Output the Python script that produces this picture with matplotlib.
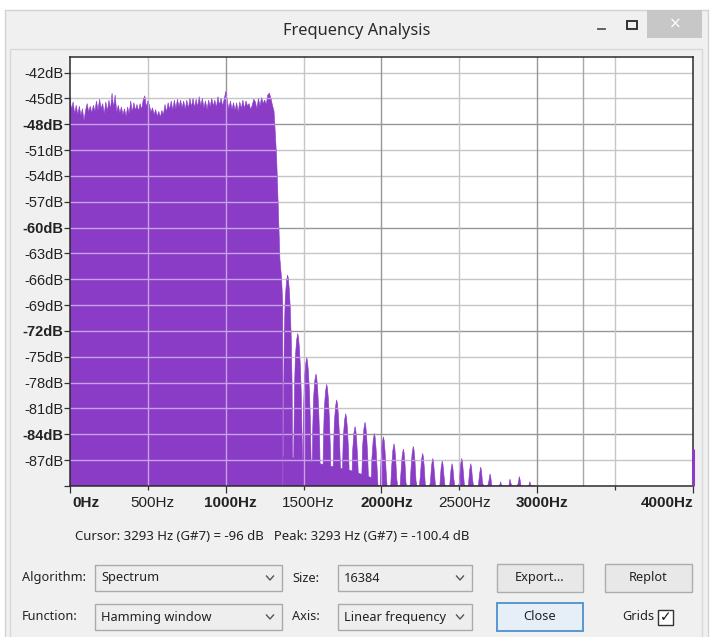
import numpy as np
import matplotlib
matplotlib.use("Agg")
import matplotlib.pyplot as plt
from matplotlib.patches import Rectangle, PathPatch
from matplotlib.path import Path
from matplotlib.transforms import blended_transform_factory, offset_copy

# ------------------------------------------------------------------ data
# flat pass-band of the spectrum, one value every 10 Hz from 0 Hz to 1300 Hz
flat_hz = list(range(0, 1301, 10))
flat_db = [
    -45.0, -46.3, -45.4, -46.8, -45.8, -46.9, -45.9, -47.0, -46.2, -47.6, -46.4,
    -45.6, -46.6, -45.9, -46.7, -45.8, -46.5, -45.3, -46.4, -45.1, -46.2,
    -45.6, -46.8, -45.4, -46.5, -45.2, -46.3, -44.4, -46.1, -44.6, -46.6,
    -45.8, -46.7, -46.0, -46.9, -46.2, -47.1, -46.0, -46.8, -45.3, -46.6,
    -45.5, -46.4, -45.7, -46.5, -45.6, -46.3, -45.2, -44.7, -46.0, -45.3,
    -45.8, -46.6, -46.1, -46.9, -46.3, -47.1, -46.5, -47.2, -46.4, -46.9,
    -45.7, -46.6, -45.5, -46.3, -45.3, -46.4, -45.2, -46.2, -45.1, -46.0,
    -45.2, -46.1, -45.3, -46.3, -45.2, -46.2, -45.0, -46.0, -45.0, -46.1,
    -45.1, -46.0, -44.8, -45.9, -45.0, -46.1, -45.3, -46.3, -45.2, -46.0,
    -45.0, -45.9, -45.2, -46.1, -44.8, -45.8, -45.0, -45.9, -45.1, -44.2,
    -45.3, -46.2, -45.3, -46.3, -45.5, -46.4, -45.5, -46.6, -45.4, -46.2,
    -45.2, -46.2, -45.3, -45.9, -45.6, -46.3, -45.8, -45.1, -45.4, -46.2,
    -45.0, -45.9, -44.9, -45.6, -45.2, -45.7, -44.6, -44.4, -45.0, -45.8,
]
# steep roll-off after the pass-band
edge_hz = [1310, 1316, 1327, 1338, 1348, 1359, 1366]
edge_db = [-46.5, -48.3, -52.0, -58.0, -63.7, -66.0, -69.0]
# side-lobe peaks of the stop-band
lobe_hz = [1397, 1462, 1520, 1579, 1648, 1712, 1770, 1830, 1894, 1954,
           2012, 2080, 2140, 2204, 2264, 2329, 2390, 2453, 2515, 2573,
           2637, 2697, 2765, 2825, 2885, 2953]
lobe_db = [-65.5, -72.3, -75.1, -77.0, -78.2, -80.0, -81.6, -83.1, -82.6, -83.9,
           -84.3, -85.1, -85.7, -85.4, -86.2, -86.8, -87.1, -87.4, -86.8, -87.4,
           -87.8, -88.6, -89.5, -89.2, -88.9, -89.5]
# level between the first side lobes (filled up to this level)
lobe_floor_hz = [1372, 1600, 1800, 1965]
lobe_floor_db = [-86.5, -87.4, -88.2, -89.2]
# single bin at the Nyquist edge
nyq_hz = [4000]
nyq_db = [-85.7]

y_tick_db = [-42, -45, -48, -51, -54, -57, -60, -63, -66, -69, -72, -75, -78, -81, -84, -87]
bold_db = [-48, -60, -72, -84]
x_tick_hz = [0, 500, 1000, 1500, 2000, 2500, 3000, 3500, 4000]
x_tick_labels = ["0Hz", "500Hz", "1000Hz", "1500Hz", "2000Hz", "2500Hz", "3000Hz", "", "4000Hz"]
x_bold_hz = [0, 1000, 2000, 3000, 4000]
cursor_hz = 3293
y_range = (-90.0, -40.2)
x_range = (0, 4000)

status_text = "Cursor: 3293 Hz (G#7) = -96 dB   Peak: 3293 Hz (G#7) = -100.4 dB"

# ------------------------------------------------------------------ style
W, H = 713, 637
PURPLE = "#8a3cc6"
LAVENDER = "#c7a2e6"
GRID_MINOR = "#c6c6c6"
GRID_MAJOR = "#979797"
UI_BG = "#f0f0f0"
UI_FONT = ["Noto Sans", "DejaVu Sans"]
RULER_FONT = ["Liberation Sans", "DejaVu Sans"]
UI_FS = 9.2
# side-lobe outline: offsets (fraction of lobe spacing) and level below the peak (dB)
LOBE_DX = [-0.45, -0.41, -0.34, -0.25, -0.12, 0.0, 0.08, 0.18, 0.29, 0.39, 0.48, 0.54]
LOBE_DROP = [-24, -13, -6.5, -2.8, -0.8, 0, -0.4, -1.7, -4.0, -7.5, -13, -24]

fig = plt.figure(figsize=(W / 100, H / 100), dpi=100)
fig.patch.set_facecolor("white")

# ------------------------------------------------------------------ window chrome (pixel coords)
ui = fig.add_axes([0, 0, 1, 1], zorder=0)
ui.set_xlim(0, W)
ui.set_ylim(H, 0)
ui.axis("off")

ui.add_patch(Rectangle((5, 10), 703, 640, facecolor=UI_BG, edgecolor="#d2d2d2", lw=1))
ui.add_patch(Rectangle((10, 49), 692, 600, facecolor=UI_BG, edgecolor="#d8d8d8", lw=1))
ui.text(357, 31, "Frequency Analysis", ha="center", va="center", fontsize=11.8,
        color="#2a2a2a", family=UI_FONT)
# window buttons
ui.plot([598, 605], [29, 29], color="#555555", lw=1.3)
ui.add_patch(Rectangle((627, 21), 10, 8, facecolor="none", edgecolor="#333333", lw=1.4))
ui.add_patch(Rectangle((647, 10), 55, 28, facecolor="#c7c7c7", edgecolor="none"))
ui.text(675, 24, "×", ha="center", va="center", fontsize=11, color="white",
        family=["DejaVu Sans"])

# status line
ui.text(75, 537, status_text, ha="left", va="center", fontsize=9.5, color="#222222",
        family=UI_FONT)


def combo(x0, x1, yc, label):
    ui.add_patch(Rectangle((x0, yc - 13), x1 - x0, 26, facecolor="#eeeeee",
                           edgecolor="#ababab", lw=1))
    ui.text(x0 + 6, yc, label, ha="left", va="center", fontsize=UI_FS,
            color="#222222", family=UI_FONT)
    cx = x1 - 12
    ui.plot([cx - 3.5, cx, cx + 3.5], [yc - 2, yc + 2, yc - 2], color="#555555", lw=1)


def button(x0, x1, yc, label, edge="#adadad", face="#e8e8e8", lw=1):
    ui.add_patch(Rectangle((x0, yc - 14), x1 - x0, 28, facecolor=face,
                           edgecolor=edge, lw=lw))
    ui.text((x0 + x1) / 2, yc, label, ha="center", va="center", fontsize=UI_FS,
            color="#222222", family=UI_FONT)


row1, row2 = 578, 617
for x, y, s in [(22, row1, "Algorithm:"), (22, row2, "Function:"),
                (292, row1, "Size:"), (292, row2, "Axis:")]:
    ui.text(x, y, s, ha="left", va="center", fontsize=UI_FS, color="#222222", family=UI_FONT)
ui.text(654, row2, "Grids", ha="right", va="center", fontsize=UI_FS, color="#222222",
        family=UI_FONT)
combo(95, 282, row1, "Spectrum")
combo(95, 282, row2, "Hamming window")
combo(338, 472, row1, "16384")
combo(338, 472, row2, "Linear frequency")
button(497, 583, row1, "Export...")
button(605, 692, row1, "Replot")
button(497, 583, row2, "Close", edge="#4d8fcf", face="#e6eff8", lw=1.3)
ui.add_patch(Rectangle((658, row2 - 7.5), 15, 15, facecolor="white", edgecolor="#333333", lw=1))
ui.text(665.5, row2, "✓", ha="center", va="center", fontsize=10, color="#111111",
        family=["DejaVu Sans"], fontweight="bold")

# ------------------------------------------------------------------ plot
L, R, T, B = 70, 693, 57, 486
ax = fig.add_axes([L / W, (H - B) / H, (R - L) / W, (B - T) / H], zorder=2)
ax.set_facecolor("white")
ax.set_xlim(*x_range)
ax.set_ylim(*y_range)

floor = y_range[0]

# gray grid
for db in y_tick_db:
    ax.axhline(db, color=GRID_MAJOR if db in bold_db else GRID_MINOR, lw=1, zorder=1)
for hz in x_tick_hz[1:-1]:
    ax.axvline(hz, color=GRID_MAJOR if hz in x_bold_hz else GRID_MINOR, lw=1, zorder=1)
ax.axvline(cursor_hz, color="#a8a8a8", lw=1, zorder=1)

# spectrum polygons
polys = []
main_x = [flat_hz[0]] + flat_hz + edge_hz + [edge_hz[-1]]
main_y = [floor] + flat_db + edge_db + [floor]
polys.append(np.column_stack([main_x, main_y]))

spacing = float(np.median(np.diff(lobe_hz)))
for f, d in zip(lobe_hz, lobe_db):
    xs = [f + dx * spacing for dx in LOBE_DX]
    ys = [max(d + dr, floor) for dr in LOBE_DROP]
    px = [xs[0]] + xs + [xs[-1]]
    py = [floor] + ys + [floor]
    polys.append(np.column_stack([px, py]))

polys.append(np.column_stack([[lobe_floor_hz[0]] + lobe_floor_hz + [lobe_floor_hz[-1]],
                              [floor] + lobe_floor_db + [floor]]))

for p in polys:
    ax.fill(p[:, 0], p[:, 1], facecolor=PURPLE, edgecolor=PURPLE, lw=0.4, zorder=2)

# Nyquist bin drawn as a thin bar at the right edge
ax.vlines(nyq_hz, floor, nyq_db, colors=PURPLE, lw=2.2, zorder=6, clip_on=False)

# combined outline used to clip the light grid over the purple area
paths = [Path(np.vstack([p, p[:1]]), closed=True) for p in polys]
compound = Path.make_compound_path(*paths)
clipper = PathPatch(compound, facecolor="none", edgecolor="none",
                    transform=ax.transData)

for db in y_tick_db:
    ln = ax.axhline(db, color=LAVENDER, lw=1, zorder=3)
    ln.set_clip_path(clipper)
for hz in x_tick_hz[1:-1]:
    ln = ax.axvline(hz, color=LAVENDER, lw=1, zorder=3)
    ln.set_clip_path(clipper)

# frame
for s in ax.spines.values():
    s.set_color("#2b2b2b")
    s.set_linewidth(1.1)
    s.set_zorder(5)

# y ticks
ax.set_yticks(y_tick_db + [floor])
ax.set_yticklabels([f"{d}dB" for d in y_tick_db] + [""])
ax.tick_params(axis="y", direction="out", length=4, width=0.9, color="#333333",
               pad=1, labelsize=10.5, labelcolor="#222222")
for lab, d in zip(ax.get_yticklabels(), y_tick_db + [floor]):
    lab.set_family(RULER_FONT)
    if d in bold_db:
        lab.set_fontweight("bold")

# x ticks
ax.set_xticks([h for h in x_tick_hz if h in x_bold_hz])
ax.set_xticks([h for h in x_tick_hz if h not in x_bold_hz], minor=True)
ax.set_xticklabels([])
ax.tick_params(axis="x", which="major", direction="out", length=5, width=0.9, color="#333333")
ax.tick_params(axis="x", which="minor", direction="out", length=3, width=0.9, color="#333333")

btrans = blended_transform_factory(ax.transData, ax.transAxes)
for hz, lab in zip(x_tick_hz, x_tick_labels):
    if not lab:
        continue
    if hz == x_range[0]:
        ha, dx = "left", 2
    elif hz == x_range[1]:
        ha, dx = "right", 0
    else:
        ha, dx = "center", 5
    tr = offset_copy(btrans, fig=fig, x=dx, y=-17, units="dots")
    ax.text(hz, 0, lab, transform=tr, ha=ha, va="center", fontsize=11,
            family=RULER_FONT, color="#222222",
            fontweight="bold" if hz in x_bold_hz else "normal",
            clip_on=False)

fig.savefig("out.png", dpi=100)
